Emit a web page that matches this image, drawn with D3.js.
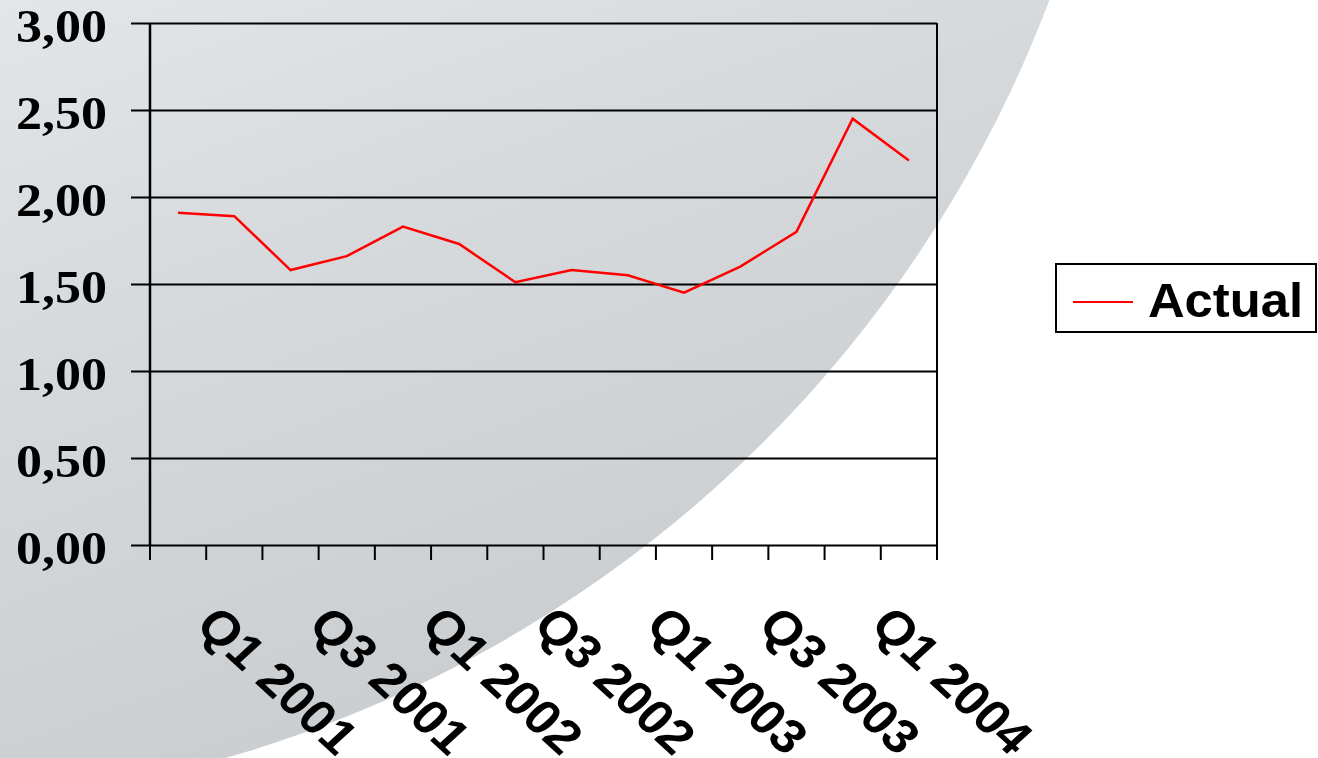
<!DOCTYPE html>
<html>
<head>
<meta charset="utf-8">
<script src="https://cdn.jsdelivr.net/npm/d3@7"></script>
<style>
    html, body { margin: 0; padding: 0; background: #ffffff; }
    #chart { width: 1318px; height: 758px; }
    .y-label { font-family: "Liberation Serif", "Times New Roman", serif; font-weight: bold; font-size: 46px; }
    .x-label { font-family: "Liberation Sans", Arial, sans-serif; font-weight: bold; font-size: 48px; }
    .legend-text { font-family: "Liberation Sans", Arial, sans-serif; font-weight: bold; font-size: 48px; }
</style>
</head>
<body>
<div id="chart"></div>
<script>
const quarters = ["Q1 2001", "Q2 2001", "Q3 2001", "Q4 2001",
                  "Q1 2002", "Q2 2002", "Q3 2002", "Q4 2002",
                  "Q1 2003", "Q2 2003", "Q3 2003", "Q4 2003",
                  "Q1 2004", "Q2 2004"];
const actual = [1.91, 1.89, 1.58, 1.66, 1.83, 1.73, 1.51, 1.58, 1.55, 1.45, 1.60, 1.80, 2.45, 2.21];
const yTicks = [0, 0.5, 1, 1.5, 2, 2.5, 3];
const seriesName = "Actual";

document.addEventListener('DOMContentLoaded', function() {
    const W = 1318, H = 758;
    const plot = { left: 150, right: 937, top: 23, bottom: 545 };

    const svg = d3.select("#chart").append("svg")
        .attr("width", W)
        .attr("height", H);

    // background: big grey disc on white, lighter toward the top-left
    const defs = svg.append("defs");
    const grad = defs.append("linearGradient")
        .attr("id", "bg-grad")
        .attr("gradientUnits", "userSpaceOnUse")
        .attr("x1", 0).attr("y1", 0)
        .attr("x2", 283).attr("y2", 792);
    grad.append("stop").attr("offset", "0%").attr("stop-color", "#e3e6e9");
    grad.append("stop").attr("offset", "40%").attr("stop-color", "#d7dadd");
    grad.append("stop").attr("offset", "100%").attr("stop-color", "#c9cdd0");

    svg.append("rect").attr("width", W).attr("height", H).attr("fill", "#ffffff");
    svg.append("circle")
        .attr("cx", -117).attr("cy", -441).attr("r", 1247)
        .attr("fill", "url(#bg-grad)");

    const xScale = d3.scaleBand()
        .domain(quarters)
        .range([plot.left, plot.right])
        .padding(0);

    const yScale = d3.scaleLinear()
        .domain([0, 3])
        .range([plot.bottom, plot.top]);

    const locale = d3.formatLocale({ decimal: ",", thousands: ".", grouping: [3], currency: ["", ""] });
    const fmt = locale.format(".2f");

    // horizontal grid + y ticks
    const yAxis = d3.axisLeft(yScale)
        .tickValues(yTicks)
        .tickSize(-(plot.right - plot.left))
        .tickFormat("");
    svg.append("g")
        .attr("transform", `translate(${plot.left},0)`)
        .call(yAxis)
        .call(g => g.select(".domain").remove())
        .call(g => g.selectAll(".tick line")
            .attr("x1", -19)
            .attr("stroke", "#000")
            .attr("stroke-width", 2));

    svg.append("g")
        .selectAll("text")
        .data(yTicks)
        .join("text")
        .attr("class", "y-label")
        .attr("x", 107)
        .attr("y", d => yScale(d) + 19)
        .attr("text-anchor", "end")
        .attr("textLength", 91)
        .attr("lengthAdjust", "spacingAndGlyphs")
        .text(d => fmt(d));

    // plot borders (left axis and right edge)
    svg.append("line")
        .attr("x1", plot.left).attr("x2", plot.left)
        .attr("y1", plot.top).attr("y2", plot.bottom)
        .attr("stroke", "#000").attr("stroke-width", 2.5);
    svg.append("line")
        .attr("x1", plot.right).attr("x2", plot.right)
        .attr("y1", plot.top).attr("y2", plot.bottom)
        .attr("stroke", "#000").attr("stroke-width", 2);

    // x ticks at category boundaries
    const boundaries = quarters.map(q => xScale(q)).concat([plot.right]);
    svg.append("g")
        .selectAll("line")
        .data(boundaries)
        .join("line")
        .attr("x1", d => d).attr("x2", d => d)
        .attr("y1", plot.bottom).attr("y2", plot.bottom + 15)
        .attr("stroke", "#000")
        .attr("stroke-width", 2);

    // rotated category labels, every second one (slightly stretched like the original)
    const xLabels = quarters.filter((q, i) => i % 2 === 0);
    svg.append("g")
        .selectAll("text")
        .data(xLabels)
        .join("text")
        .attr("class", "x-label")
        .attr("transform", d => `translate(${xScale(d) + xScale.bandwidth() / 2 + 16},627) scale(1.09,1) rotate(45)`)
        .text(d => d);

    // the series
    const line = d3.line()
        .x((d, i) => xScale(quarters[i]) + xScale.bandwidth() / 2)
        .y(d => yScale(d));

    svg.append("path")
        .datum(actual)
        .attr("fill", "none")
        .attr("stroke", "#ff0000")
        .attr("stroke-width", 2.5)
        .attr("stroke-linejoin", "miter")
        .attr("d", line);

    // legend
    const legend = svg.append("g").attr("transform", "translate(1056,264)");
    legend.append("rect")
        .attr("width", 260).attr("height", 68)
        .attr("fill", "#ffffff")
        .attr("stroke", "#000").attr("stroke-width", 2);
    legend.append("line")
        .attr("x1", 17).attr("x2", 77)
        .attr("y1", 38).attr("y2", 38)
        .attr("stroke", "#ff0000").attr("stroke-width", 2);
    legend.append("text")
        .attr("class", "legend-text")
        .attr("x", 92).attr("y", 53)
        .attr("textLength", 155)
        .attr("lengthAdjust", "spacingAndGlyphs")
        .text(seriesName);
});
</script>
</body>
</html>
